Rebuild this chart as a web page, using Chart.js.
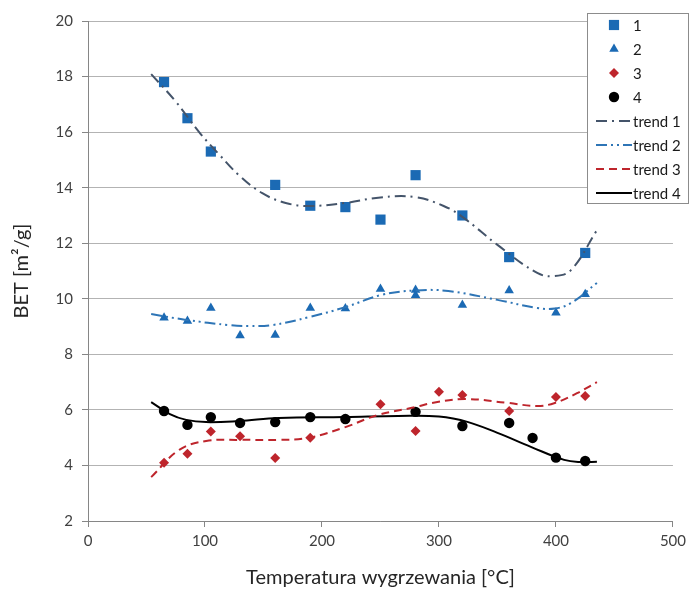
<!DOCTYPE html>
<html>
<head>
<meta charset="utf-8">
<script src="https://cdn.jsdelivr.net/npm/chart.js@4/dist/chart.umd.min.js"></script>
<style>
html,body{margin:0;padding:0;background:#fff;}
#wrap{position:relative;width:691px;height:590px;}
</style>
</head>
<body>
<div id="wrap"><canvas id="c" width="691" height="590"></canvas></div>
<script>
// ---- data ----
const s1x = [65, 85, 105, 160, 190, 220, 250, 280, 320, 360, 425];
const s1y = [17.8, 16.5, 15.3, 14.1, 13.35, 13.3, 12.85, 14.45, 13.0, 11.5, 11.65];

const s2x = [65, 85, 105, 130, 160, 190, 220, 250, 280, 280, 320, 360, 400, 425];
const s2y = [9.32, 9.2, 9.67, 8.68, 8.7, 9.67, 9.65, 10.35, 10.32, 10.13, 9.78, 10.3, 9.5, 10.16];

const s3x = [65, 85, 105, 130, 160, 190, 250, 280, 300, 320, 360, 400, 425];
const s3y = [4.1, 4.42, 5.22, 5.05, 4.27, 5.0, 6.2, 5.24, 6.65, 6.54, 5.96, 6.46, 6.5];

const s4x = [65, 85, 105, 130, 160, 190, 220, 280, 320, 360, 380, 400, 425];
const s4y = [5.96, 5.46, 5.74, 5.53, 5.56, 5.74, 5.67, 5.93, 5.42, 5.53, 4.99, 4.28, 4.16];

// trend curves
const t1x = [54, 75, 95, 112, 129, 149, 169, 189, 220, 250, 280, 304, 320, 350, 384, 399, 413, 435];
const t1y = [18.09, 17.1, 16.0, 15.2, 14.45, 13.8, 13.45, 13.34, 13.45, 13.65, 13.66, 13.34, 12.95, 11.94, 10.93, 10.82, 11.04, 12.47];

const t2x = [54, 84, 121, 138, 157, 189, 220, 251, 280, 308, 350, 384, 399, 413, 435];
const t2y = [9.45, 9.24, 9.05, 9.02, 9.05, 9.34, 9.7, 10.14, 10.3, 10.28, 9.96, 9.67, 9.65, 9.85, 10.57];

const t3x = [54, 78, 101, 129, 163, 189, 220, 248, 280, 294, 322, 359, 384, 399, 418, 435];
const t3y = [3.58, 4.56, 4.88, 4.92, 4.92, 5.0, 5.38, 5.82, 6.1, 6.25, 6.39, 6.25, 6.14, 6.25, 6.6, 7.0];

const t4x = [54, 70, 84, 101, 129, 163, 220, 265, 300, 325, 350, 379, 407, 422, 435];
const t4y = [6.28, 5.85, 5.64, 5.56, 5.6, 5.71, 5.74, 5.78, 5.76, 5.56, 5.17, 4.66, 4.2, 4.12, 4.13];

const seriesLabels = ['1', '2', '3', '4', 'trend 1', 'trend 2', 'trend 3', 'trend 4'];
const xTicks = [0, 100, 200, 300, 400, 500];
const yTicks = [2, 4, 6, 8, 10, 12, 14, 16, 18, 20];

const pts = (xs, ys) => xs.map((x, i) => ({x: x, y: ys[i]}));

const FONT = 'Lato, "Open Sans", sans-serif';
const BLUE = '#1B6AB4';
const RED = '#BE252C';

const pointDs = (label, xs, ys, style, color, r) => ({
  label, data: pts(xs, ys), showLine: false,
  pointStyle: style, pointRadius: r, pointHoverRadius: r,
  backgroundColor: color, borderColor: color, borderWidth: 0, order: 1
});
const trendDs = (label, xs, ys, color, dash, w) => ({
  label, data: pts(xs, ys), showLine: true, pointRadius: 0,
  borderColor: color, backgroundColor: color, borderWidth: w,
  borderDash: dash, tension: 0.4, fill: false, order: 0
});

const datasets = [
  pointDs(seriesLabels[0], s1x, s1y, 'rect', BLUE, 7.2),
  pointDs(seriesLabels[1], s2x, s2y, 'triangle', BLUE, 5.5),
  pointDs(seriesLabels[2], s3x, s3y, 'rectRot', RED, 5),
  pointDs(seriesLabels[3], s4x, s4y, 'circle', '#000000', 5.2),
  trendDs(seriesLabels[4], t1x, t1y, '#44546A', [11, 5, 2, 5], 2),
  trendDs(seriesLabels[5], t2x, t2y, '#2E75B6', [11, 4, 2, 4, 2, 4], 2),
  trendDs(seriesLabels[6], t3x, t3y, RED, [8, 5], 2),
  trendDs(seriesLabels[7], t4x, t4y, '#000000', [], 2)
];

const legendPlugin = {
  id: 'boxLegend',
  afterDraw(chart) {
    const ctx = chart.ctx;
    const L = 587, T = 13, R = 689, B = 204;
    ctx.save();
    ctx.fillStyle = '#ffffff';
    ctx.fillRect(L, T, R - L, B - T);
    ctx.strokeStyle = '#8C8C8C';
    ctx.lineWidth = 1;
    ctx.strokeRect(L + 0.5, T + 0.5, R - L - 1, B - T - 1);
    ctx.font = '15px ' + FONT;
    ctx.textBaseline = 'middle';
    ctx.textAlign = 'left';
    chart.data.datasets.forEach((ds, i) => {
      const y = 25 + i * 24;
      if (!ds.showLine) {
        ctx.fillStyle = ds.backgroundColor;
        ctx.strokeStyle = ds.borderColor;
        Chart.helpers.drawPoint(ctx, {pointStyle: ds.pointStyle, radius: ds.pointRadius, borderWidth: 0, rotation: 0}, 614, y);
        ctx.fillStyle = '#1a1a1a';
        ctx.fillText(ds.label, 633, y + 1);
      } else {
        ctx.strokeStyle = ds.borderColor;
        ctx.lineWidth = 2;
        ctx.setLineDash(ds.borderDash);
        ctx.beginPath();
        ctx.moveTo(596, y);
        ctx.lineTo(632, y);
        ctx.stroke();
        ctx.setLineDash([]);
        ctx.fillStyle = '#1a1a1a';
        ctx.fillText(ds.label, 633, y + 1);
      }
    });
    ctx.restore();
  }
};

new Chart(document.getElementById('c'), {
  type: 'scatter',
  data: {datasets},
  options: {
    responsive: false,
    animation: false,
    devicePixelRatio: 1,
    layout: {padding: {top: 21, right: 15, left: 0, bottom: 0}},
    plugins: {legend: {display: false}, tooltip: {enabled: false}},
    scales: {
      x: {
        type: 'linear', min: 0, max: 500,
        afterFit: s => { s.height = 69; },
        afterBuildTicks: s => { s.ticks = xTicks.map(v => ({value: v})); },
        grid: {drawOnChartArea: false, drawTicks: true, tickLength: 6, color: '#868686'},
        border: {display: true, color: '#868686', width: 1},
        ticks: {color: '#404040', font: {family: FONT, size: 15}, padding: 5, maxRotation: 0},
        title: {display: true, text: 'Temperatura wygrzewania [°C]', color: '#262626',
                font: {family: FONT, size: 20}, padding: {top: 0, bottom: 0}}
      },
      y: {
        type: 'linear', min: 2, max: 20,
        afterFit: s => { s.width = 88; },
        afterBuildTicks: s => { s.ticks = yTicks.map(v => ({value: v})); },
        grid: {color: '#B3B3B3', tickLength: 6, tickColor: '#868686'},
        border: {display: true, color: '#868686', width: 1},
        ticks: {color: '#404040', font: {family: FONT, size: 15}, padding: 9},
        title: {display: true, text: 'BET [m²/g]', color: '#262626',
                font: {family: FONT, size: 20}, padding: {top: 10, bottom: 0}}
      }
    }
  },
  plugins: [legendPlugin]
});
</script>
</body>
</html>
